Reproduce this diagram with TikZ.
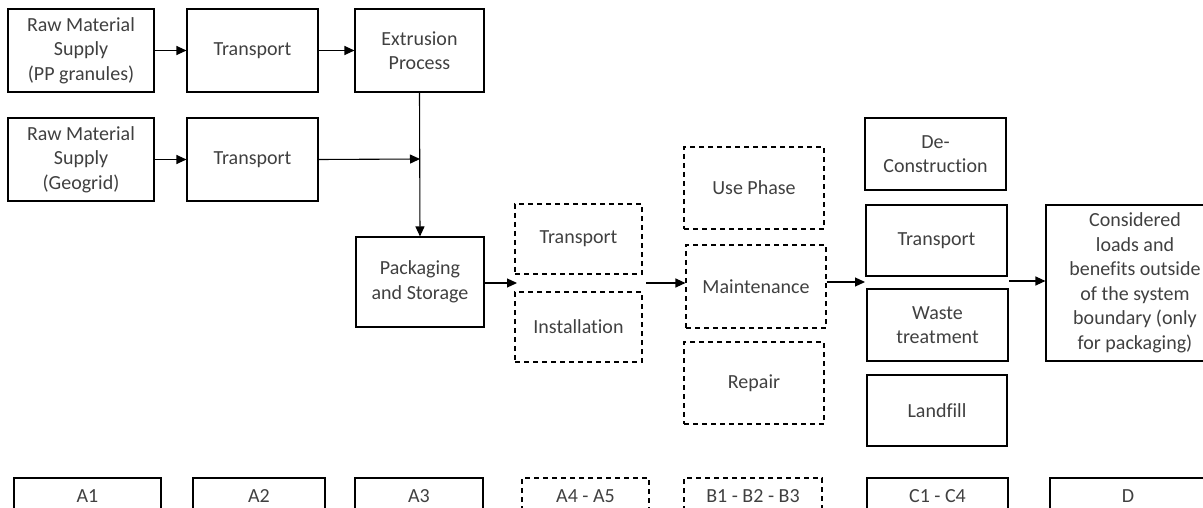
\documentclass[tikz,border=0pt]{standalone}
\usepackage{fontspec}
\setmainfont{Carlito}[Ligatures={NoCommon}]
\usetikzlibrary{arrows.meta}
\definecolor{txt}{HTML}{404040}
\tikzset{
  box/.style={draw=black, line width=1.1pt, inner sep=0pt, align=center, text=txt,
    font=\fontsize{20}{24.5}\selectfont},
  dbox/.style={box, dash pattern=on 5pt off 4pt},
  lbl/.style={inner sep=0pt, anchor=base, text depth=0pt, text=txt, font=\fontsize{20}{24.5}\selectfont},
  frame/.style={draw=black, line width=1.1pt},
  dframe/.style={frame, dash pattern=on 5pt off 4pt},
  conn/.style={line width=1.1pt, -{Triangle[length=10pt,width=9pt]}}
}
\begin{document}
\begin{tikzpicture}[x=1pt,y=-1pt]
\useasboundingbox (0,0) rectangle (1203,508);
\clip (0,0) rectangle (1203,508);
% top row
\node[box, minimum width=146pt, minimum height=83pt] (rm1) at (81,50.5) {Raw Material\\Supply\\(PP granules)};
\node[box, minimum width=131pt, minimum height=83pt] (t1) at (252.5,50.5) {Transport};
\node[box, minimum width=129pt, minimum height=83pt] (ext) at (419.5,50.5) {Extrusion\\Process};
\node[box, minimum width=146pt, minimum height=83pt] (rm2) at (81,159.5) {Raw Material\\Supply\\(Geogrid)};
\node[box, minimum width=131pt, minimum height=83pt] (t2) at (252.5,159.5) {Transport};
\node[box, minimum width=128pt, minimum height=90pt] (pack) at (420,282) {Packaging\\and Storage};
% A4-A5
\node[dbox, minimum width=127pt, minimum height=70pt] (tr2) at (578.5,239) {Transport};
\node[dbox, minimum width=127pt, minimum height=70pt] (inst) at (578.5,327) {Installation};
% B
\node[dbox, minimum width=140pt, minimum height=82pt] (use) at (754,188) {Use Phase};
\node[dbox, minimum width=140pt, minimum height=83pt] (maint) at (756,286.5) {Maintenance};
\node[dbox, minimum width=140pt, minimum height=82pt] (rep) at (754,383) {Repair};
% C
\node[box, minimum width=141pt, minimum height=72pt] (dec) at (935.5,154) {De-\\Construction};
\node[box, minimum width=141pt, minimum height=71pt] (tr3) at (936.5,240.5) {Transport};
\node[box, minimum width=141pt, minimum height=72pt] (waste) at (937.5,325) {Waste\\treatment};
\node[box, minimum width=140pt, minimum height=71pt] (land) at (937,410.5) {Landfill};
% D
\node[box, minimum width=178pt, minimum height=156pt] (cons) at (1135,283) {Considered\\loads and\\benefits outside\\of the system\\boundary (only\\for packaging)};
% bottom labels (frames run past the lower edge)
\node[lbl] (la1) at (87.5,502) {A1};
\node[lbl] (la2) at (259,502) {A2};
\node[lbl] (la3) at (419,502) {A3};
\node[lbl] (la45) at (585.5,502) {A4 - A5};
\node[lbl] (lb) at (753,502) {B1 - B2 - B3};
\node[lbl] (lc) at (937.5,502) {C1 - C4};
\node[lbl] (ld) at (1128,502) {D};
\draw[frame] (14,520) |- (161,478) -- (161,520);
\draw[frame] (193,520) |- (325,478) -- (325,520);
\draw[frame] (355,520) |- (483,478) -- (483,520);
\draw[dframe] (522,520) |- (649,478) -- (649,520);
\draw[dframe] (684,520) |- (822,478) -- (822,520);
\draw[frame] (867,520) |- (1008,478) -- (1008,520);
\draw[frame] (1050,520) |- (1210,478) -- (1210,520);
% connectors
\coordinate (j) at (420,159);
\coordinate (pout) at (517,283);
\coordinate (bin) at (646,283);
\coordinate (mout) at (865,282);
\coordinate (cin) at (1009,281);
\draw[conn] (rm1.east) -- (t1.west);
\draw[conn] (t1.east) -- (ext.west);
\draw[conn] (rm2.east) -- (t2.west);
\draw[conn] (t2.east) -- (j);
\draw[conn] (ext.south) -- (pack.north);
\draw[conn] (pack.east |- pout) -- (pout);
\draw[conn] (bin) -- (maint.west |- bin);
\draw[conn] (maint.east |- mout) -- (mout);
\draw[conn] (cin) -- (cons.west |- cin);
\end{tikzpicture}
\end{document}
